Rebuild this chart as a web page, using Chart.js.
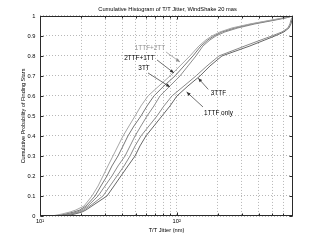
<!DOCTYPE html>
<html>
<head>
<meta charset="utf-8">
<script src="https://cdn.jsdelivr.net/npm/chart.js@4.4.1/dist/chart.umd.min.js"></script>
<style>
  html, body { margin: 0; padding: 0; background: #ffffff; }
  #wrap { width: 327px; height: 243px; }
</style>
</head>
<body>
<div id="wrap"><canvas id="c" width="327" height="243"></canvas></div>
<script>
// ---------------- data ----------------
const titleText = 'Cumulative Histogram of T/T Jitter, WindShake 20 mas';
const xAxisLabel = 'T/T Jitter (nm)';
const yAxisLabel = 'Cumulative Probability of Finding Stars';

const seriesNames = ['1TTF+2TT', '2TTF+1TT', '3TT', '3TTF', '1TTF only'];

// cumulative probability levels shared by all curves
const probLevels = [0, 0.01, 0.02, 0.03, 0.05, 0.1, 0.15, 0.2, 0.25, 0.3, 0.35, 0.4, 0.45, 0.5,
  0.55, 0.6, 0.65, 0.7, 0.75, 0.8, 0.85, 0.88, 0.9, 0.92, 0.94, 0.96, 0.98, 0.99, 1];

// T/T jitter (nm) at which each curve reaches the level above
const jitter1TTF2TT = [12.2, 14.5, 16.6, 18.3, 21.0, 24.0, 26.6, 28.9, 31.4, 34.2, 37.2, 40.5, 44.8, 49.6,
  54.8, 61.7, 74.2, 89.4, 105.7, 125.1, 145.6, 163.8, 181.3, 207.4, 253.8, 343.7, 498.1, 599.3, 709];
const jitter2TTF1TT = [12.9, 15.5, 17.7, 19.6, 21.7, 25.3, 27.9, 30.9, 33.6, 37.2, 40.5, 44.0, 48.7, 54.8,
  60.7, 68.2, 80.7, 97.2, 113.1, 131.6, 150.6, 169.4, 187.5, 214.5, 267.0, 355.5, 515.0, 609.5, 709];
const jitter3TT = [13.5, 16.6, 18.7, 20.3, 22.4, 26.6, 29.9, 33.6, 37.2, 41.9, 45.6, 49.6, 54.8, 60.7,
  68.2, 75.5, 89.4, 105.7, 121.0, 138.4, 155.8, 175.3, 193.9, 225.6, 280.8, 373.9, 532.7, 630.4, 709];
const jitter3TTF = [14.5, 17.1, 19.6, 21.0, 23.2, 28.9, 32.5, 36.6, 41.2, 45.6, 49.6, 54.8, 62.7, 71.8,
  80.7, 92.4, 113.1, 138.4, 166.6, 203.9, 315.9, 413.7, 498.1, 589.3, 652.0, 674.4, 685.8, 697.5, 709];
const jitter1TTFonly = [15.5, 18.0, 20.3, 21.7, 24.0, 30.9, 34.8, 39.1, 44.0, 49.6, 53.9, 59.6, 68.2, 78.1,
  89.4, 100.5, 121.0, 148.1, 175.3, 214.5, 343.7, 442.6, 523.8, 609.5, 663.1, 685.8, 697.5, 703.3, 709];

// axis ticks
const xTickValues = [10, 20, 30, 40, 50, 60, 70, 80, 90, 100, 200, 300, 400, 500, 600, 700];
const xTickLabels = { 10: '10\u00B9', 100: '10\u00B2' };
const yTickValues = [0, 0.1, 0.2, 0.3, 0.4, 0.5, 0.6, 0.7, 0.8, 0.9, 1];
const xRange = [10, 710];
const yRange = [0, 1];

// ---------------- styling / layout ----------------
const FONT = '"Liberation Sans", Arial, Helvetica, sans-serif';
const seriesColors = ['#a6a6a6', '#777777', '#8c8c8c', '#8a8a8a', '#666666'];

// annotation labels: text position and arrow (start -> tip), in data coordinates
const notes = [
  { text: '1TTF+2TT', at: [63.8, 0.84], from: [83.5, 0.82], to: [105.7, 0.77], color: '#8f8f8f' },
  { text: '2TTF+1TT', at: [53.4, 0.79], from: [71.8, 0.78], to: [95.5, 0.715], color: '#000000' },
  { text: '3TT', at: [57.7, 0.74], from: [61.7, 0.715], to: [89.4, 0.645], color: '#000000' },
  { text: '3TTF', at: [202.2, 0.615], from: [170.2, 0.633], to: [143.9, 0.689], color: '#000000' },
  { text: '1TTF only', at: [202.2, 0.515], from: [155.8, 0.545], to: [118.3, 0.62], color: '#000000' }
];

const allJitter = [jitter1TTF2TT, jitter2TTF1TT, jitter3TT, jitter3TTF, jitter1TTFonly];
const datasets = seriesNames.map((name, i) => ({
  label: name,
  data: allJitter[i].map((v, k) => ({ x: v, y: probLevels[k] })),
  borderColor: seriesColors[i],
  backgroundColor: seriesColors[i],
  borderWidth: 1,
  pointRadius: 0,
  showLine: true,
  tension: 0,
  fill: false
}));

const framePlugin = {
  id: 'frameAndTicks',
  afterDraw(chart) {
    const { ctx, chartArea: a, scales } = chart;
    const L = Math.round(a.left) + 0.5, R = Math.round(a.right) - 0.5;
    const T = Math.round(a.top) + 0.5, B = Math.round(a.bottom) - 0.5;
    ctx.save();
    ctx.strokeStyle = '#2a2a2a';
    ctx.lineWidth = 1;
    ctx.setLineDash([]);
    ctx.strokeRect(L, T, R - L, B - T);
    ctx.beginPath();
    yTickValues.forEach(v => {
      const py = Math.round(scales.y.getPixelForValue(v)) + 0.5;
      ctx.moveTo(L, py); ctx.lineTo(L + 3, py);
      ctx.moveTo(R, py); ctx.lineTo(R - 3, py);
    });
    xTickValues.forEach(v => {
      const px = Math.round(scales.x.getPixelForValue(v)) + 0.5;
      const len = (v === 10 || v === 100) ? 3 : 2;
      ctx.moveTo(px, B); ctx.lineTo(px, B - len);
      ctx.moveTo(px, T); ctx.lineTo(px, T + len);
    });
    ctx.stroke();
    ctx.restore();
  }
};

const notesPlugin = {
  id: 'arrowNotes',
  afterDatasetsDraw(chart) {
    const { ctx, scales: { x, y } } = chart;
    ctx.save();
    notes.forEach(n => {
      const tx = x.getPixelForValue(n.at[0]), ty = y.getPixelForValue(n.at[1]);
      ctx.font = '6.4px ' + FONT;
      ctx.fillStyle = n.color;
      ctx.textAlign = 'center';
      ctx.textBaseline = 'middle';
      ctx.fillText(n.text, tx, ty);
      const sx = x.getPixelForValue(n.from[0]), sy = y.getPixelForValue(n.from[1]);
      const ex = x.getPixelForValue(n.to[0]), ey = y.getPixelForValue(n.to[1]);
      const col = n.color === '#000000' ? '#333333' : '#8f8f8f';
      ctx.strokeStyle = col;
      ctx.fillStyle = col;
      ctx.lineWidth = 0.7;
      ctx.beginPath();
      ctx.moveTo(sx, sy); ctx.lineTo(ex, ey);
      ctx.stroke();
      const ang = Math.atan2(ey - sy, ex - sx);
      const hl = 4, hw = 1.7;
      ctx.beginPath();
      ctx.moveTo(ex, ey);
      ctx.lineTo(ex - hl * Math.cos(ang) + hw * Math.sin(ang), ey - hl * Math.sin(ang) - hw * Math.cos(ang));
      ctx.lineTo(ex - hl * Math.cos(ang) - hw * Math.sin(ang), ey - hl * Math.sin(ang) + hw * Math.cos(ang));
      ctx.closePath();
      ctx.fill();
    });
    ctx.restore();
  }
};

new Chart(document.getElementById('c'), {
  type: 'scatter',
  data: { datasets },
  plugins: [notesPlugin, framePlugin],
  options: {
    responsive: false,
    animation: false,
    devicePixelRatio: 1,
    layout: { padding: { left: 8, right: 0, top: 0, bottom: 0 } },
    plugins: {
      legend: { display: false },
      tooltip: { enabled: false },
      title: {
        display: true,
        text: titleText,
        color: '#000',
        font: { family: FONT, size: 5.7, weight: 'normal', lineHeight: 1.2 },
        padding: { top: 5.6, bottom: 3.5 }
      }
    },
    scales: {
      x: {
        type: 'logarithmic',
        position: 'bottom',
        min: xRange[0],
        max: xRange[1],
        afterBuildTicks(s) { s.ticks = xTickValues.map(v => ({ value: v })); },
        afterFit(s) { s.height = 27; },
        ticks: {
          autoSkip: false,
          maxRotation: 0,
          padding: 2.5,
          color: '#000',
          font: { family: FONT, size: 5.7 },
          callback: (v) => xTickLabels[v] || ''
        },
        grid: { color: '#b8b8b8', lineWidth: 1, drawTicks: false },
        border: { display: false, dash: [1, 2] },
        title: {
          display: true,
          text: xAxisLabel,
          color: '#000',
          font: { family: FONT, size: 5.7 },
          padding: { top: 0, bottom: 9.6 }
        }
      },
      y: {
        position: 'left',
        min: yRange[0],
        max: yRange[1],
        afterBuildTicks(s) { s.ticks = yTickValues.map(v => ({ value: v })); },
        afterFit(s) { s.width = 32; },
        ticks: {
          padding: 4.5,
          color: '#000',
          font: { family: FONT, size: 5.7 },
          callback: (v) => String(Math.round(v * 10) / 10)
        },
        grid: { color: '#b8b8b8', lineWidth: 1, drawTicks: false },
        border: { display: false, dash: [1, 2] },
        title: {
          display: true,
          text: yAxisLabel,
          color: '#000',
          font: { family: FONT, size: 5.5 },
          padding: { top: 11.7, bottom: 0 }
        }
      },
      yRight: {
        position: 'right',
        min: 0, max: 1,
        afterFit(s) { s.width = 34; },
        ticks: { display: false },
        grid: { display: false, drawTicks: false },
        border: { display: false }
      }
    }
  }
});
</script>
</body>
</html>
